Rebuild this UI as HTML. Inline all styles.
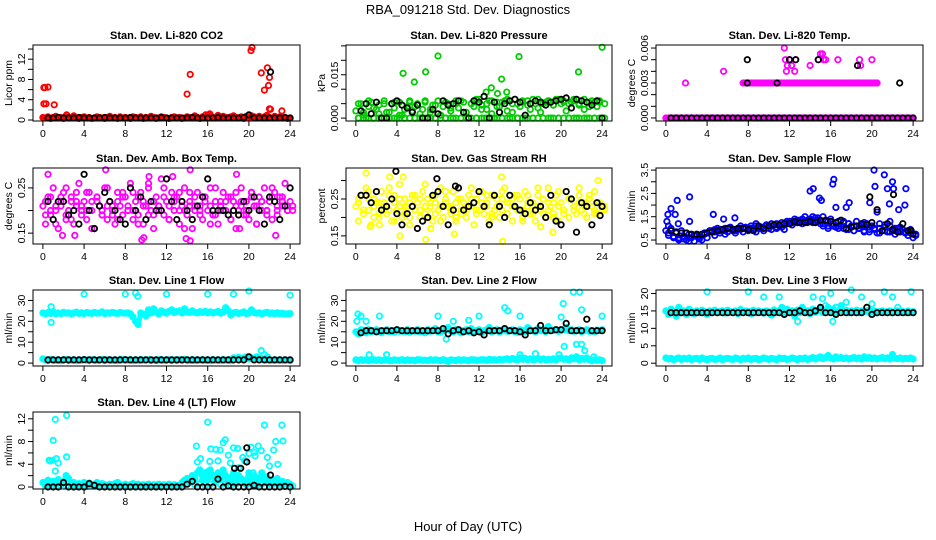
<!DOCTYPE html>
<html><head><meta charset="utf-8">
<style>
html,body{margin:0;padding:0;background:#fff;}
svg{display:block;font-family:"Liberation Sans",Arial,sans-serif;}
.t{font-size:11px;font-weight:bold;}
.tk{font-size:10.5px;}
</style></head>
<body>
<svg id="chart" width="936" height="540" viewBox="0 0 936 540">
<text x="468" y="14" text-anchor="middle" font-size="13">RBA_091218  Std. Dev. Diagnostics</text>
<text x="468" y="531" text-anchor="middle" font-size="13">Hour of Day (UTC)</text>
</svg>
<script>
// ---------- data ----------
const xTicks=[0,4,8,12,16,20,24];

const co2Base=[0.5,0.4,0.6,0.3,0.5,0.7,0.4,0.5,0.3,0.6,0.4,0.5,0.8,0.4,0.3,0.5,0.6,0.4,0.5,0.3,0.4,0.6,0.5,0.4,0.3,0.5,0.7,0.4,0.5,0.3,0.6,0.4,0.5,0.4,0.3,0.6,0.5,0.4,0.6,0.3,0.5,0.4,0.7,0.5,0.3,0.4,0.6,0.5,0.4,0.3,0.5,0.6,0.4,0.5,0.3,0.4,0.6,0.5,0.4,0.8,0.5,0.3,0.6,0.4,0.9,1.0,0.5,0.4,0.8,0.6,0.7,0.5,0.4,0.6,0.8,0.5,0.4,0.6,0.3,0.7,0.5,0.8,0.6,0.5,0.7,0.4,0.6,0.9,0.5,0.4,0.7,0.5,0.6,0.4,0.5,0.3,0.4];
const co2OutX=[0.1,0.2,0.5,0.1,0.3,1.1,2.3,14.0,14.3,16.2,20.3,20.2,21.2,21.5,21.8,21.9,22.0,22.1,22.0,23.2,15.8,17.0];
const co2OutY=[6.4,6.4,6.5,3.2,3.2,3.0,1.0,5.1,9.0,1.2,14.3,13.7,9.3,5.9,10.3,6.8,8.4,2.1,2.2,1.8,1.0,0.9];
const co2Black=[0.4,0.4,0.5,0.4,0.4,0.4,0.5,0.4,0.4,0.4,0.4,0.5,0.4,0.4,0.4,0.4,0.5,0.4,0.4,0.4,0.4,0.4,0.5,0.4,0.4,0.4,0.4,0.4,0.5,0.4,0.4,0.4,0.4,0.5,0.4,0.4,0.4,0.4,0.5,1.0,0.4,0.4,0.4,0.4,0.4,0.4,0.5,0.4];
const co2BlackOutX=[22.1];
const co2BlackOutY=[9.5];

const presBase=[0.0025,0,0.005,0.002,0,0.004,0.0055,0,0.003,0.0045,0,0.006,0.002,0,0.005,0.0035,0,0.0055,0.001,0,0.004,0.006,0.0025,0,0.005,0,0.003,0.0055,0,0.002,0.0045,0,0.006,0.001,0.004,0,0.005,0.0025,0,0.006,0.0035,0,0.0055,0.002,0,0.005,0.004,0,0.0065,0.003,0,0.005,0.006,0.0015,0,0.0055,0.004,0,0.006,0.0025,0,0.005,0.0065,0,0.004,0.0055,0,0.006,0.003,0,0.005,0.0065,0.002,0,0.0055,0.006,0,0.0045,0.0065,0,0.005,0.006,0.0025,0,0.0055,0.0065,0,0.005,0.006,0.003,0,0.0055,0.006,0,0.004,0.0055,0];
const presBase2=[0.005,0.001,0.006,0.0035,0.0015,0.005,0.002,0.0055,0.001,0.003,0.0055,0.004,0.0015,0.006,0.003,0.0045,0.001,0.0055,0.0035,0.005,0.006,0.002,0.005,0.0065,0.0045,0.003,0.006,0.004,0.0055,0.0065,0.002,0.005,0.006,0.0045,0.0065,0.0035,0.005,0.006,0.0045,0.0065,0.0055,0.005,0.006,0.0045,0.0065,0.004,0.0055,0.006,0.005];
const presFloor=[0,0,0,0,0,0,0,0,0,0,0,0,0,0,0,0,0,0,0,0,0,0,0,0,0,0,0,0,0,0,0,0,0,0,0,0,0,0,0,0,0,0,0,0,0,0,0,0,0];
const presOutX=[4.6,5.7,6.8,8.0,12.7,13.2,13.8,14.2,14.7,15.9,21.7,24.0];
const presOutY=[0.0155,0.0125,0.016,0.0215,0.009,0.0105,0.0085,0.0135,0.009,0.0213,0.016,0.0245];
const presBlack=[0.0025,0.005,0.0015,0.0055,0,0,0.005,0.006,0.0045,0.0035,0.002,0.0045,0,0,0.003,0.0015,0.006,0.0045,0.005,0.006,0.002,0,0.006,0.0055,0.0075,0,0.0055,0.002,0.005,0.006,0.0065,0.0055,0.001,0.005,0.006,0.0055,0.0045,0.0055,0.006,0.0065,0.007,0.0035,0.0065,0.006,0.0055,0.0045,0.006,0];

const tempBase=[0,0,0,0,0,0,0,0,0,0,0,0,0,0,0,0,0,0,0,0,0,0,0,0,0,0,0,0,0,0,0,0,0,0,0,0,0,0,0,0,0,0,0,0,0,0,0,0,0,0,0,0,0,0,0,0,0,0,0,0,0,0,0,0,0,0,0,0,0,0,0,0,0,0,0,0,0,0,0,0,0,0,0,0,0,0,0,0,0,0,0,0,0,0,0,0,0];
const tempUpper=[null,null,null,null,null,null,null,null,null,null,null,null,null,null,null,null,null,null,null,null,null,null,null,null,null,null,null,null,null,null,0.003,0.003,0.003,0.003,0.003,0.003,0.003,0.003,0.003,0.003,0.003,0.003,0.003,0.003,0.003,0.003,0.003,0.003,0.003,0.003,0.003,0.003,0.003,0.003,0.003,0.003,0.003,0.003,0.003,0.003,0.003,0.003,0.003,0.003,0.003,0.003,0.003,0.003,0.003,0.003,0.003,0.003,0.003,0.003,0.003,0.003,0.003,0.003,0.003,0.003,0.003,0.003,0.003,null,null,null,null,null,null,null,null,null,null,null,null,null,null];
const tempOutX=[1.9,5.6,11.5,11.6,12.0,12.6,11.8,12.2,14.0,15.0,15.2,15.5,16.7,18.8,18.9,20.0,14.8,15.3,12.5,11.7];
const tempOutY=[0.003,0.004,0.006,0.005,0.005,0.005,0.0045,0.0045,0.0045,0.0055,0.0055,0.005,0.005,0.005,0.0045,0.005,0.005,0.005,0.004,0.004];
const tempBlack=[0,0,0,0,0,0,0,0,0,0,0,0,0,0,0,0,0,0,0,0,0,0,0,0,0,0,0,0,0,0,0,0,0,0,0,0,0,0,0,0,0,0,0,0,0,0,0,0];
const tempBlackOutX=[7.9,7.9,10.8,12.0,12.6,14.8,18.6,22.7];
const tempBlackOutY=[0.005,0.003,0.003,0.005,0.005,0.005,0.0045,0.003];

const ambBase=[0.21,0.17,0.23,0.19,0.25,0.2,0.16,0.22,0.24,0.18,0.2,0.23,0.17,0.21,0.26,0.19,0.22,0.18,0.24,0.2,0.16,0.23,0.21,0.19,0.25,0.18,0.22,0.2,0.17,0.24,0.21,0.19,0.23,0.2,0.26,0.18,0.22,0.19,0.24,0.17,0.21,0.25,0.2,0.16,0.23,0.21,0.27,0.19,0.22,0.18,0.24,0.2,0.23,0.17,0.21,0.25,0.19,0.22,0.16,0.2,0.24,0.21,0.18,0.23,0.2,0.25,0.19,0.22,0.17,0.21,0.24,0.2,0.23,0.18,0.22,0.16,0.2,0.25,0.19,0.22,0.18,0.24,0.21,0.17,0.23,0.2,0.25,0.19,0.22,0.18,0.24,0.2,0.23,0.21,0.26,0.2,0.22];
const ambBase2=[0.19,0.23,0.17,0.21,0.25,0.18,0.22,0.2,0.24,0.16,0.22,0.19,0.25,0.21,0.18,0.23,0.2,0.24,0.17,0.22,0.26,0.19,0.21,0.25,0.18,0.23,0.2,0.16,0.24,0.21,0.19,0.23,0.17,0.25,0.2,0.22,0.18,0.24,0.21,0.19,0.23,0.17,0.22,0.2,0.25,0.19,0.23,0.21,0.2];
const ambBase3=[0.22,0.2,0.21,0.23,0.19,0.22,0.24,0.21,0.2,0.22,0.23,0.2,0.21,0.19,0.22,0.24,0.21,0.2,0.23,0.21,0.19,0.22,0.2,0.23,0.21,0.22,0.24,0.2,0.21,0.23,0.2,0.22,0.21,0.19,0.22,0.2,0.23,0.21,0.22,0.2,0.24,0.21,0.22,0.2,0.23,0.21,0.22,0.2,0.21];
const ambOutX=[0.5,6.1,14.3,18.8,9.6,14.3,13.9,9.8,1.9,3.1,22.6,12.6,19.1,10.3];
const ambOutY=[0.28,0.29,0.29,0.28,0.135,0.133,0.138,0.14,0.145,0.145,0.145,0.275,0.16,0.275];
const ambBlack=[0.22,0.18,0.22,0.22,0.19,0.2,0.17,0.28,0.2,0.16,0.21,0.24,0.22,0.2,0.18,0.17,0.25,0.2,0.23,0.18,0.22,0.2,0.2,0.27,0.22,0.18,0.22,0.2,0.18,0.21,0.23,0.27,0.2,0.2,0.2,0.19,0.2,0.19,0.22,0.2,0.23,0.2,0.17,0.23,0.22,0.18,0.21,0.25];

const rhBase=[0.23,0.19,0.26,0.21,0.28,0.22,0.18,0.25,0.24,0.2,0.27,0.23,0.21,0.26,0.19,0.24,0.22,0.29,0.2,0.25,0.23,0.18,0.26,0.22,0.24,0.2,0.27,0.21,0.25,0.23,0.19,0.26,0.22,0.28,0.2,0.24,0.23,0.21,0.27,0.19,0.25,0.22,0.24,0.2,0.26,0.23,0.18,0.25,0.22,0.27,0.21,0.24,0.19,0.26,0.22,0.23,0.2,0.25,0.28,0.21,0.24,0.19,0.26,0.22,0.25,0.2,0.27,0.23,0.21,0.24,0.19,0.26,0.22,0.25,0.2,0.28,0.23,0.21,0.26,0.19,0.24,0.22,0.27,0.2,0.25,0.23,0.21,0.26,0.22,0.24,0.2,0.25,0.23,0.27,0.21,0.24,0.22];
const rhBase2=[0.25,0.21,0.27,0.2,0.24,0.22,0.28,0.19,0.25,0.23,0.2,0.26,0.22,0.29,0.21,0.24,0.19,0.27,0.23,0.2,0.25,0.22,0.28,0.21,0.24,0.26,0.2,0.23,0.27,0.21,0.25,0.22,0.19,0.26,0.23,0.28,0.21,0.24,0.2,0.27,0.22,0.25,0.23,0.28,0.21,0.26,0.22,0.24,0.23];
const rhBase3=[0.24,0.22,0.25,0.23,0.21,0.24,0.22,0.26,0.23,0.21,0.24,0.22,0.25,0.23,0.24,0.21,0.23,0.25,0.22,0.24,0.21,0.23,0.25,0.22,0.24,0.23,0.21,0.25,0.22,0.24,0.23,0.26,0.22,0.24,0.21,0.23,0.25,0.22,0.24,0.23,0.21,0.25,0.22,0.24,0.23,0.25,0.21,0.24,0.22];
const rhOutX=[1.0,1.4,2.3,3.3,4.3,6.8,9.6,14.2,14.3,18.0,19.2,23.6,4.6,7.3];
const rhOutY=[0.32,0.175,0.18,0.31,0.15,0.14,0.155,0.31,0.135,0.175,0.16,0.3,0.31,0.17];
const rhBlack=[0.26,0.26,0.24,0.27,0.22,0.23,0.25,0.21,0.18,0.21,0.23,0.17,0.19,0.2,0.26,0.27,0.23,0.18,0.22,0.28,0.22,0.23,0.24,0.27,0.23,0.18,0.26,0.23,0.2,0.26,0.23,0.22,0.21,0.24,0.22,0.23,0.2,0.26,0.19,0.18,0.27,0.25,0.16,0.24,0.23,0.18,0.24,0.23];
const rhBlackOutX=[3.9,7.9,9.7,23.8];
const rhBlackOutY=[0.325,0.305,0.285,0.205];

const flowBase=[0.9,0.7,1.0,0.6,0.8,0.55,0.9,0.65,0.5,0.75,0.6,0.45,0.7,0.55,0.5,0.8,0.6,0.85,0.9,0.7,1.0,0.8,0.9,0.75,0.85,1.0,0.9,0.8,1.0,0.95,0.85,1.0,0.9,1.1,0.95,0.85,1.0,1.05,0.9,1.1,1.0,0.95,1.15,1.0,1.1,1.05,0.95,1.2,1.3,1.15,1.4,1.25,1.35,1.2,1.5,1.3,1.4,1.25,1.45,1.35,1.2,1.5,1.3,1.1,1.4,1.2,1.05,1.3,1.1,1.25,0.95,1.2,1.1,0.9,1.3,1.0,1.15,0.85,1.2,0.95,1.1,1.0,0.8,1.2,0.9,1.05,0.85,1.1,0.9,0.75,1.0,0.85,0.95,0.8,0.7,0.9,0.6];
const flowBase2=[1.1,0.6,0.5,0.65,0.45,0.7,0.6,0.75,0.85,0.95,0.9,1.0,1.05,0.9,1.1,1.0,0.95,1.2,1.0,1.1,1.2,1.05,1.15,1.2,1.3,1.25,1.4,1.35,1.5,1.45,1.2,1.3,1.1,1.0,1.3,1.2,0.9,1.1,1.25,0.85,1.0,0.8,1.15,1.3,0.9,1.05,0.8,0.95,0.7];
const flowBase3=[0.8,0.65,0.6,0.55,0.6,0.7,0.65,0.8,0.9,0.85,0.95,0.9,1.0,0.95,1.0,1.05,1.0,1.1,1.05,1.15,1.1,1.2,1.25,1.3,1.25,1.35,1.3,1.25,1.35,1.3,1.1,1.0,1.2,1.1,1.0,0.95,1.1,1.0,0.9,1.05,0.95,1.0,0.9,0.85,1.0,0.9,0.85,0.8,0.75];
const flowOutX=[0.1,0.2,0.5,0.9,1.1,1.2,2.3,2.3,4.6,5.6,6.7,14.0,14.3,14.9,15.1,16.2,16.3,16.5,17.5,17.8,19.8,20.2,20.3,20.5,21.2,21.5,21.7,22.0,22.1,22.6,23.3,23.2];
const flowOutY=[1.3,1.6,1.85,1.6,2.2,1.2,2.35,1.3,1.6,1.4,1.45,2.6,2.7,2.3,2.2,2.9,3.1,1.9,1.9,2.1,2.1,3.5,2.8,1.7,3.3,2.7,2.05,3.0,2.7,1.8,2.7,2.0];
const flowBlack=[0.9,0.85,0.8,0.8,0.75,0.75,0.75,0.8,0.85,0.9,0.95,1.0,0.95,1.0,1.0,0.95,0.9,1.1,1.0,1.1,1.15,1.15,1.2,1.2,1.3,1.25,1.25,1.3,1.25,1.35,1.35,1.3,1.25,1.35,1.0,1.05,1.1,1.2,1.15,1.25,1.8,0.9,1.2,0.95,0.85,1.2,0.9,0.75];
const flowBlackOutX=[19.8,22.1,23.8];
const flowBlackOutY=[2.35,2.45,0.9];

const l1High=[24,23.5,24.2,23.8,24.5,23.6,24,23.7,24.3,23.9,24.1,23.6,24,24.4,23.8,24.1,23.7,24.2,24,23.8,24.3,23.9,24,24.5,23.7,24.1,23.9,24.3,24,23.8,24.2,24,23.9,24.1,23.6,22,20,18.5,24,23.5,22.5,25.5,24,26,24.5,23.5,25,24.4,23.9,24.8,25.5,24.2,24.7,25,24,26,24.5,24.2,25,24.3,24,24.6,24.2,24.8,24.1,24.5,24,24.3,24.7,23.9,24.4,26.5,25,23,24,24.3,23.8,24.1,24.5,23.7,24,25.5,24.2,23.9,24.1,23.6,24,24.3,23.8,24,23.6,24.1,23.7,23.9,23.5,23.6,23.7];
const l1Low=[2,1.5,1.2,1.8,1.4,1.3,1.6,1.2,1.5,1.7,1.3,1.4,1.6,1.2,1.5,1.3,1.7,1.4,1.2,1.6,1.5,1.3,1.4,1.7,1.2,1.5,1.6,1.3,1.4,1.2,1.8,1.5,1.3,1.4,1.6,1.2,1.5,1.3,1.7,1.4,1.5,1.6,1.3,1.4,1.2,1.5,1.7,1.3,1.4,1.6,1.2,1.5,1.3,1.6,1.4,1.8,1.5,1.3,1.7,1.2,1.5,1.4,1.6,1.3,1.5,1.2,1.7,1.4,1.5,1.3,1.6,1.4,1.5,1.2,2.5,2.2,2.8,2,2.5,3,2,2.5,1.8,3,2.5,2,1.8,1.5,1.6,1.3,1.5,1.4,1.6,1.3,1.5,1.4,1.3];
const l1OutX=[0.8,0.8,4.0,8.0,9.0,9.2,12.0,16.0,18.5,20.0,24.0,21.2,21.5,21.8];
const l1OutY=[27,19.5,33,33,33.5,32,33,33,33,34.5,32.5,6,4,3];
const l1Black=[1.5,1.5,1.5,1.5,1.5,1.5,1.5,1.6,1.5,1.5,1.5,1.5,1.5,1.5,1.5,1.6,1.5,1.5,1.5,1.5,1.5,1.5,1.5,1.5,1.5,1.5,1.5,1.5,1.5,1.5,1.5,1.5,1.5,1.5,1.5,1.5,1.5,1.5,1.5,3.0,1.5,1.5,1.5,1.5,1.5,1.5,1.5,1.5];

const l2High=[15,14,16,15.5,14.5,16,15,15.5,16,15,14.5,15.5,16,15,15.5,14.8,16,15.2,15.5,15,16,14.8,15.5,15.2,16,15,15.5,14.5,16,15.2,15.5,16.5,15,14.8,15.5,16,17,15.5,15,16,15.2,14.5,15.5,16,15,16.5,15.2,15.5,16,14.5,15.5,16,17,15,15.5,16,14.8,15.5,16,15.2,15.5,16,15,14.8,16,15.5,15,17,16,15.5,15,16.5,15.5,16,15,17.5,16,15.5,16,15.2,15.5,16,17,15.5,16,15.2,15.5,16,15,15.5,16,15.2,15.5,15,15.8,15.5,16];
const l2Low=[1.5,1.2,1.6,1.3,1.5,1.2,1.4,1.6,1.3,1.5,1.2,1.4,1.6,1.3,1.2,1.5,1.4,1.3,1.6,1.2,1.5,1.3,1.4,1.2,1.6,1.5,1.3,1.4,1.2,1.6,1.3,1.5,1.4,1.2,1.6,1.3,0.8,1.5,1.4,1.2,1.6,1.3,1.5,1.4,1.2,1.6,1.5,1.3,1.4,1.6,1.5,1.3,1.8,1.5,1.6,1.4,1.7,1.5,1.8,2,1.6,2.2,1.8,1.5,2.5,1.8,2.2,1.6,2,1.5,1.8,2.2,1.6,2,1.5,1.8,1.6,2,1.5,2.2,2.5,1.8,2,1.5,2.5,2,3,1.5,2.2,1.8,2.5,1.5,1.2,1.6,1.3,1.5,1.2];
const l2OutX=[0.1,0.2,0.5,1.0,1.3,2.3,3.0,8.0,8.8,9.5,11.0,12.0,14.5,14.8,16.0,16.0,17.5,19.8,20.0,20.2,20.3,21.2,21.8,21.5,22.0,22.3,22.0,24.0,23.2];
const l2OutY=[20,23.5,22.5,20,4,22.5,4,22.5,11.5,20,20.5,22.5,26.5,25,22.5,4,4.5,4,22,28.5,8,34,34,9,9,6,25.5,22.5,3];
const l2Black=[14.5,15.5,15.5,15,15.5,15.5,15.5,16,15.5,15.5,15.5,15.5,15.5,15.5,15.5,15.5,16.5,14,15.5,16,15,15.5,14.5,15,13.5,15.5,15.5,15.5,16.5,15.5,15.5,15,13.5,15.5,15.5,18,15.5,15.5,16,16,19,15.5,15.5,15.5,21,15.5,15.5,15.5];

const l3High=[15,14,15.5,14.8,13.5,16,14.5,15,14,15.5,14.8,14.2,15,14.5,15.2,14.8,14,15,14.6,15.2,14.5,14.8,15,14.4,15.2,14.8,14.5,15,14.2,15.4,14.6,15,14.8,14.2,15.2,14.5,15,14.8,14.4,15,14.7,13.8,15.3,14.5,15,16,14.2,15.5,14.8,15,13.5,15.2,14.5,16,14.8,15,14.2,15.5,14.6,15,15.8,14.5,15.2,16,14.8,15.5,14.2,15,16.5,14.8,15.2,14.5,15,14.8,15.2,14.5,15,14.8,15,14.6,14.8,15,14.5,14.8,15,14.6,14.8,15,14.5,14.8,15,14.6,14.8,14.5,15,14.6,14.8];
const l3Low=[1.5,1.2,1.4,1,1.3,1.5,1.1,1.4,1.2,1.5,1,1.3,1.4,1.1,1.5,1.2,1,1.3,1.4,1.1,1.2,1.5,1,1.3,1.4,1.2,1.1,1.5,1.3,1,1.4,1.2,1.5,1.1,1.3,1.4,1,1.2,1.5,1.3,1.1,1.4,1.2,1,1.5,1.3,1.4,1.1,1.2,1.5,1.3,1,1.4,1.2,1.5,1.1,1.3,1.6,1.2,1.5,1.8,1.3,1.6,2.2,1.5,1.2,1.8,1.4,1.6,1.3,1.5,1.2,1.4,1.6,1.3,1.5,1.2,1.8,1.4,1.6,1.3,1.5,1.2,1.4,1.6,1.3,1.5,1.2,2.5,1.4,1.3,1.5,1.2,1.4,1.3,1.5,1.2];
const l3OutX=[4.0,8.0,9.5,11.0,12.8,14.3,15.2,15.5,16.0,16.5,17.5,18.0,19.0,19.7,20.0,21.2,22.0,22.5,23.8,16.2];
const l3OutY=[20.5,20.5,19,19,12,19,18.5,16.5,20,16,17.5,21,19,15,17,20.5,19,16,20.5,12];
const l3Black=[14.5,14.5,14.5,14.5,14.5,14.5,14.5,14.5,14.5,14.5,14.5,14.5,14.5,14.5,14.5,14.5,14.5,14.5,14.5,14.5,14.5,14.5,14,14.5,14.5,15,14.5,14.5,15,16,14.5,14.5,14,14.5,14.5,14.5,14.5,14.5,16,14,14.5,14.5,14.5,14.5,14.5,14.5,14.5,14.5];

const l4Base=[0.8,0.5,1.2,0.3,1,0.6,1.3,0.4,0.9,2,1.5,0.5,0.8,0.3,0.6,0.4,0.8,0.3,0.7,0.4,0.5,0.8,0.3,0.6,0.4,0.2,0.5,0.3,0.6,0.8,0.4,0.3,0.5,0.2,0.4,0.6,0.3,0.5,0.2,0.4,0.3,0.5,0.2,0.4,0.3,0.5,0.2,0.4,0.3,0.5,0.2,0.4,0.3,0.2,0.8,1.2,1.5,0.8,2,1.5,2.5,3,1.2,2.5,1.5,3,2,1,2.5,1.5,3,2,0.8,1.5,2.5,1,2,1.5,0.8,1.2,2.5,1,2,0.5,1.5,2.5,1,1.8,0.5,1.2,0.8,1.5,0.5,1,0.6,0.8,0.5];
const l4Base2=[0.2,0.3,0.1,0.4,0.2,0.3,0.1,0.2,0.1,0.3,0.2,0.1,0.2,0.3,0.1,0.2,0.1,0.3,0.2,0.1,0.2,0.3,0.1,0.2,0.1,0.3,0.2,0.5,0.8,0.4,0.6,0.3,0.5,0.8,0.4,0.6,0.3,0.5,0.9,0.4,0.6,0.3,0.5,0.8,0.4,0.6,0.3,0.5,0.2];
const l4OutX=[0.7,0.9,1.0,1.2,1.3,1.5,2.3,2.3,1.2,0.6,14.9,15.0,15.3,16.0,16.2,16.3,16.8,17.0,17.2,17.5,17.7,18.0,18.2,18.5,18.8,19.0,19.4,19.6,20.0,20.2,20.4,20.6,20.9,21.2,21.5,21.8,22.0,22.4,22.6,22.8,23.2,23.3,15.2,16.1,18.9,20.5];
const l4OutY=[4.6,4.7,8.2,11.9,5,4.2,12.6,5.3,2.8,4.7,7.2,4.4,5,11.4,4.5,6.7,6.6,4.6,6.5,7.8,8.3,5.6,4.2,6.9,2.7,3.4,5.2,4.6,5.9,7.0,2.5,5.5,7.2,6.4,10.9,5.2,3.7,6.5,8,4.0,10.9,8.1,3.0,2.8,6.8,6.1];
const l4Black=[0,0,0,0.8,0,0,0,0,0.6,0.3,0,0,0,0,0,0,0,0,0,0,0,0,0,0,0,0,0,0.5,1.0,0,0,0,0,1.4,0,0.2,0,0,0,0,0.3,0,0,0,0,0,0.1,0];
const l4BlackOutX=[18.6,19.2,19.8,19.8,22.1];
const l4BlackOutY=[3.3,3.3,6.9,4.4,2.1];

// ---------- layout ----------
const colL=[33,346,656], colR=[300,612,923];
const rowT=[45,168,290,412], rowB=[121,244,366,489];

const panels=[
 {name:'co2',title:'Stan. Dev. Li-820 CO2',ylab:'Licor ppm',ylim:[-0.2,14.8],ticks:[0,2,4,6,8,10,12,14],labs:{0:'0',4:'4',8:'8',12:'12'},color:'#ff0000',base:[co2Base],band:[co2Base],base2:[],ox:co2OutX,oy:co2OutY,blk:co2Black,box:co2BlackOutX,boy:co2BlackOutY,r:0,c:0},
 {name:'pressure',title:'Stan. Dev. Li-820 Pressure',ylab:'kPa',ylim:[-0.001,0.0253],ticks:[0,0.005,0.01,0.015,0.02,0.025],labs:{0:'0.000',0.015:'0.015'},color:'#00cd00',base:[presBase],band:[],base2:[presBase2,presFloor],ox:presOutX,oy:presOutY,blk:presBlack,box:[],boy:[],r:0,c:1},
 {name:'temp',title:'Stan. Dev. Li-820 Temp.',ylab:'degrees C',ylim:[-0.00026,0.00626],ticks:[0,0.001,0.002,0.003,0.004,0.005,0.006],labs:{0:'0.000',0.003:'0.003',0.006:'0.006'},color:'#ff00ff',base:[tempBase,tempUpper],band:[tempBase,tempUpper],base2:[],ox:tempOutX,oy:tempOutY,blk:tempBlack,box:tempBlackOutX,boy:tempBlackOutY,r:0,c:2},
 {name:'amb-box-temp',title:'Stan. Dev. Amb. Box Temp.',ylab:'degrees C',ylim:[0.126,0.294],ticks:[0.15,0.2,0.25],labs:{0.15:'0.15',0.25:'0.25'},color:'#ff00ff',base:[ambBase],band:[],base2:[ambBase2,ambBase3],ox:ambOutX,oy:ambOutY,blk:ambBlack,box:[],boy:[],r:1,c:0},
 {name:'gas-rh',title:'Stan. Dev. Gas Stream RH',ylab:'percent',ylim:[0.128,0.334],ticks:[0.15,0.2,0.25,0.3],labs:{0.15:'0.15',0.25:'0.25'},color:'#ffff00',base:[rhBase],band:[],base2:[rhBase2,rhBase3],ox:rhOutX,oy:rhOutY,blk:rhBlack,box:rhBlackOutX,boy:rhBlackOutY,r:1,c:1},
 {name:'sample-flow',title:'Stan. Dev. Sample Flow',ylab:'ml/min',ylim:[0.33,3.59],ticks:[0.5,1,1.5,2,2.5,3,3.5],labs:{0.5:'0.5',1.5:'1.5',2.5:'2.5',3.5:'3.5'},color:'#0000ff',base:[flowBase],band:[],base2:[flowBase2,flowBase3],ox:flowOutX,oy:flowOutY,blk:flowBlack,box:flowBlackOutX,boy:flowBlackOutY,r:1,c:2},
 {name:'line1-flow',title:'Stan. Dev. Line 1 Flow',ylab:'ml/min',ylim:[-1.4,35],ticks:[0,5,10,15,20,25,30],labs:{0:'0',10:'10',20:'20',30:'30'},color:'#00ffff',base:[l1High,l1Low],band:[l1High,l1Low],base2:[],ox:l1OutX,oy:l1OutY,blk:l1Black,box:[],boy:[],r:2,c:0},
 {name:'line2-flow',title:'Stan. Dev. Line 2 Flow',ylab:'ml/min',ylim:[-1.4,35],ticks:[0,5,10,15,20,25,30],labs:{0:'0',10:'10',20:'20',30:'30'},color:'#00ffff',base:[l2High,l2Low],band:[l2High,l2Low],base2:[],ox:l2OutX,oy:l2OutY,blk:l2Black,box:[],boy:[],r:2,c:1},
 {name:'line3-flow',title:'Stan. Dev. Line 3 Flow',ylab:'ml/min',ylim:[-0.8,21],ticks:[0,5,10,15,20],labs:{0:'0',5:'5',10:'10',15:'15',20:'20'},color:'#00ffff',base:[l3High,l3Low],band:[l3High,l3Low],base2:[],ox:l3OutX,oy:l3OutY,blk:l3Black,box:[],boy:[],r:2,c:2},
 {name:'line4-flow',title:'Stan. Dev. Line 4 (LT) Flow',ylab:'ml/min',ylim:[-0.35,13.2],ticks:[0,2,4,6,8,10,12],labs:{0:'0',4:'4',8:'8',12:'12'},color:'#00ffff',base:[l4Base],band:[l4Base],base2:[l4Base2],ox:l4OutX,oy:l4OutY,blk:l4Black,box:l4BlackOutX,boy:l4BlackOutY,r:3,c:0}
];

const NS='http://www.w3.org/2000/svg';
const svg=document.getElementById('chart');
function mk(tag,attrs,parent){const e=document.createElementNS(NS,tag);for(const k in attrs)e.setAttribute(k,attrs[k]);(parent||svg).appendChild(e);return e;}

panels.forEach(p=>{
 const L=colL[p.c],R=colR[p.c],T=rowT[p.r],B=rowB[p.r];
 const xs=h=>L+(h+0.96)/25.92*(R-L);
 const ys=v=>B-(v-p.ylim[0])/(p.ylim[1]-p.ylim[0])*(B-T);
 const g=mk('g',{});
 
 
 const t=mk('text',{x:(L+R)/2,y:T-6,'text-anchor':'middle',class:'t'},g);
 t.textContent=p.title;
 
 
 const yl=mk('text',{x:0,y:0,'text-anchor':'middle',class:'tk',transform:`translate(${L-21},${(T+B)/2}) rotate(-90)`},g);
 yl.textContent=p.ylab;
 
 
 // dense band (overplotted points) through the base series
 p.band.forEach(arr=>{
   let segs=[],cur=[];
   arr.forEach((v,i)=>{if(v===null){if(cur.length)segs.push(cur);cur=[];}else cur.push(xs(i*24/(arr.length-1)).toFixed(1)+','+ys(v).toFixed(1));});
   if(cur.length)segs.push(cur);
   segs.forEach(s=>{const pl=mk('polyline',{points:s.join(' '),fill:'none',stroke:p.color,'stroke-width':5,'stroke-linejoin':'round','stroke-linecap':'round'},g);
     
     });
 });
 // points
 const pts=mk('g',{fill:'none','stroke-width':1.8},g);
 
 
 const dot=(h,v,col)=>{if(v===null||v===undefined)return;
   const c=mk('circle',{cx:xs(h).toFixed(1),cy:ys(v).toFixed(1),r:2.7,stroke:col},pts);
   
   };
 p.base.forEach(arr=>arr.forEach((v,i)=>dot(i*24/(arr.length-1),v,p.color)));
 p.base2.forEach(arr=>arr.forEach((v,i)=>dot(i*0.5+0.25,v,p.color)));
 p.ox.forEach((h,i)=>dot(h,p.oy[i],p.color));
 p.blk.forEach((v,i)=>dot(0.5+i*0.5,v,'#000'));
 p.box.forEach((h,i)=>dot(h,p.boy[i],'#000'));
 // box
 const bx=mk('rect',{x:L,y:T,width:R-L,height:B-T,fill:'none',stroke:'#000','stroke-width':1},g);
 
 
 // x axis
 const xa=mk('g',{},g);
 
 
 mk('line',{x1:xs(xTicks[0]),x2:xs(xTicks[xTicks.length-1]),y1:B,y2:B,stroke:'#000'},xa);
 xTicks.forEach(h=>{mk('line',{x1:xs(h),x2:xs(h),y1:B,y2:B+5,stroke:'#000'},xa);
   const tl=mk('text',{x:xs(h),y:B+16,'text-anchor':'middle',class:'tk'},xa);tl.textContent=h;
   
   });
 // y axis
 const ya=mk('g',{},g);
 
 
 p.ticks.forEach(v=>{mk('line',{x1:L,x2:L-5,y1:ys(v),y2:ys(v),stroke:'#000'},ya);
   if(p.labs[v]!==undefined){const tl=mk('text',{x:0,y:0,'text-anchor':'middle',class:'tk',transform:`translate(${L-8},${ys(v)}) rotate(-90)`},ya);tl.textContent=p.labs[v];
   
   }});
});
</script>
</body></html>
